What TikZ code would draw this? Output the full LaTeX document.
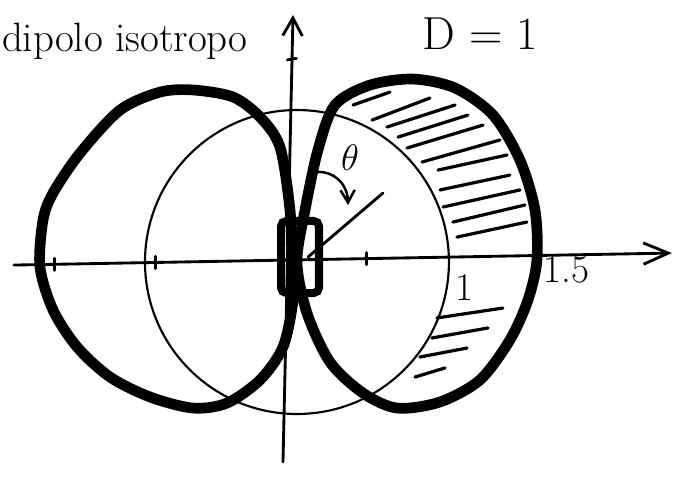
\documentclass[tikz,border=0pt]{standalone}
\usepackage{amssymb}
\usepackage{tikz}
\usetikzlibrary{arrows.meta}
\usetikzlibrary{calc}

\tikzset{
  lobe/.style={line width=6pt, line join=round},
  hatchline/.style={line width=1.8pt, line cap=round},
  axisline/.style={line width=1.6pt, line cap=round},
  lbl/.style={inner sep=0pt, font=\fontsize{22}{26}\selectfont},
}

\begin{document}
\begin{tikzpicture}[x=3cm, y=3cm]
            \useasboundingbox (-1.941,-1.441) rectangle (2.553,1.724);
            \def\r{1}
            \coordinate (O) at (0.013,0);

            % Axes
            \coordinate (xl) at (-1.849,-0.020);
            \coordinate (xr) at (2.480,0.059);
            \coordinate (yb) at (-0.079,-1.316);
            \coordinate (yt) at (-0.013,1.625);
            \draw[axisline, -{Straight Barb[length=14pt,width=12pt]}] (xl) -- (xr);
            \draw[axisline, -{Straight Barb[length=10pt,width=11pt]}] (yb) -- (yt);
            \draw[axisline] (-1.58,-0.055) -- (-1.58,0.025);
            \draw[axisline] (-0.92,-0.043) -- (-0.92,0.037);
            \draw[axisline] (0.47,-0.018) -- (0.47,0.062);
            \draw[axisline] (-0.05,1.33) -- (0.01,1.34);

            % Isotropic circle
            \draw[line width=1.2pt] (O) circle (\r);

            % Right lobe
            \draw[lobe] plot[smooth cycle] coordinates {
                (0.013,0) (0.066,0.342) (0.151,0.737) (0.263,1.033) (0.493,1.164)
                (0.776,1.204) (1.053,1.145) (1.303,0.967) (1.480,0.671) (1.579,0.342)
                (1.592,0.013) (1.533,-0.25) (1.414,-0.513) (1.217,-0.776) (0.954,-0.921)
                (0.671,-0.961) (0.447,-0.862) (0.230,-0.658) (0.079,-0.336)};

            % Left lobe
            \draw[lobe] plot[smooth cycle] coordinates {
                (-0.020,0) (-0.033,0.342) (-0.099,0.757) (-0.230,0.954) (-0.408,1.086)
                (-0.671,1.132) (-0.888,1.118) (-1.151,1.0) (-1.414,0.717) (-1.592,0.454)
                (-1.658,0.276) (-1.678,-0.033) (-1.592,-0.316) (-1.434,-0.559) (-1.217,-0.757)
                (-0.954,-0.888) (-0.671,-0.961) (-0.447,-0.928) (-0.230,-0.776) (-0.079,-0.559)
                (-0.013,-0.25)};

            % Hatching, upper part
            \draw[hatchline] (0.382,1.033) -- (0.625,1.118);
            \draw[hatchline] (0.507,0.934) -- (0.888,1.079);
            \draw[hatchline] (0.605,0.888) -- (1.053,1.033);
            \draw[hatchline] (0.678,0.822) -- (1.138,0.967);
            \draw[hatchline] (0.737,0.750) -- (1.237,0.901);
            \draw[hatchline] (0.836,0.658) -- (1.349,0.803);
            \draw[hatchline] (0.941,0.605) -- (1.395,0.704);
            \draw[hatchline] (0.954,0.474) -- (1.414,0.572);
            \draw[hatchline] (0.974,0.362) -- (1.480,0.474);
            \draw[hatchline] (1.039,0.263) -- (1.513,0.375);
            \draw[hatchline] (1.066,0.164) -- (1.526,0.263);

            % Hatching, lower part
            \draw[hatchline] (0.934,-0.368) -- (1.368,-0.303);
            \draw[hatchline] (0.901,-0.500) -- (1.270,-0.434);
            \draw[hatchline] (0.822,-0.625) -- (1.132,-0.566);
            \draw[hatchline] (0.789,-0.757) -- (0.987,-0.697);

            % Dipole
            \draw[line width=4.5pt, rounded corners=3pt] (-0.092,0.270) rectangle (0.158,-0.204);

            % Angle
            \coordinate (r0) at (0.086,0.033);
            \coordinate (r1) at (0.579,0.454);
            \draw[axisline] (r0) -- (r1);
            \coordinate (t0) at (0.145,0.592);
            \coordinate (t1) at (0.349,0.375);
            \draw[line width=1.4pt, -{Straight Barb[length=7pt,width=8pt]}]
                (t0) .. controls (0.25,0.60) and (0.345,0.52) .. (t1);
            \node[lbl] (theta) at (0.362,0.684) {$\theta$};

            % Labels
            \node[lbl, anchor=base west, font=\fontsize{23}{27}\selectfont] (title) at (-1.93,1.382) {dipolo isotropo};
            \node[lbl, anchor=base west, font=\fontsize{26}{31}\selectfont] (D) at (0.836,1.395) {D = 1};
            \node[lbl, anchor=base] (one) at (1.118,-0.25) {1};
            \node[lbl, anchor=base west] (onefive) at (1.632,-0.132) {1.5};
\end{tikzpicture}
\end{document}
